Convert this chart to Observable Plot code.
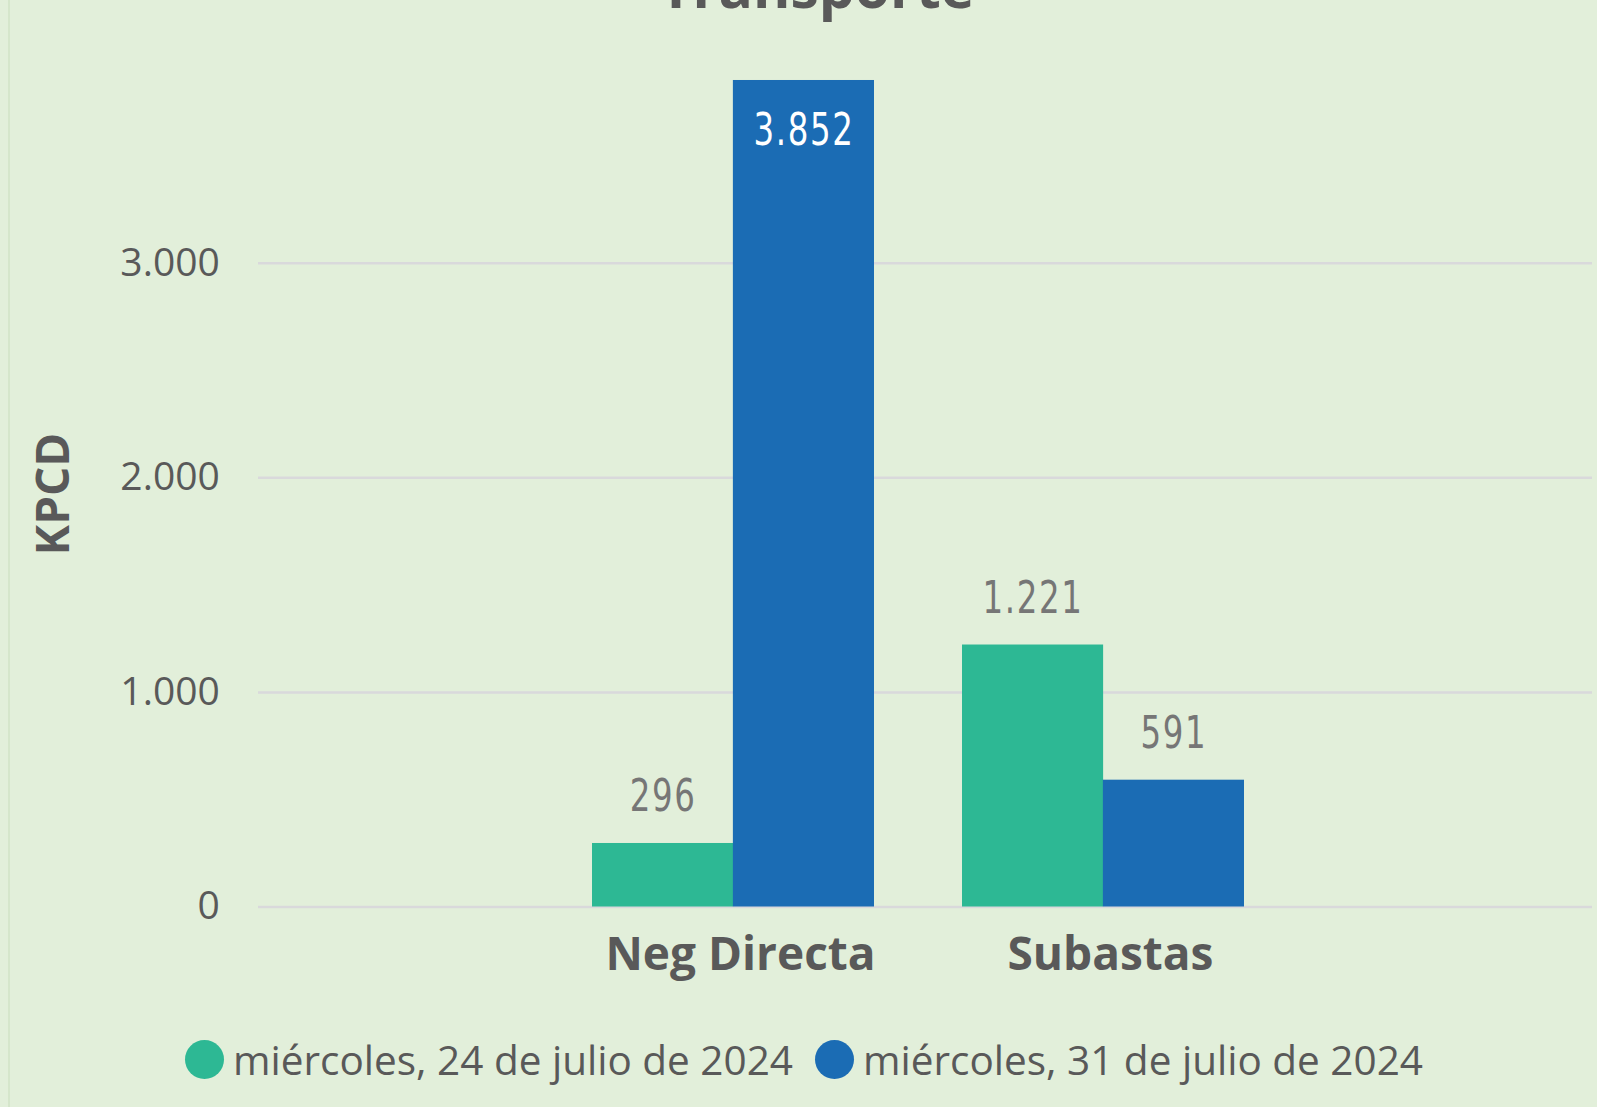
<!DOCTYPE html>
<html><head><meta charset="utf-8">
<script src="https://cdn.jsdelivr.net/npm/d3@7"></script>
<script src="https://cdn.jsdelivr.net/npm/@observablehq/plot@0.6"></script>
<style>
html,body{margin:0;padding:0;background:#E2EFDA;}
#wrap{position:relative;width:1597px;height:1107px;overflow:hidden;background:#E2EFDA;font-family:"Open Sans",sans-serif;}
#edge{position:absolute;left:8px;top:0;width:2px;height:1107px;background:#D5E6CB;}
#title{position:absolute;left:0;width:1597px;top:-42px;text-align:center;font-size:57px;line-height:56px;font-weight:700;color:#595959;padding-left:37px;box-sizing:border-box;}
#chart{position:absolute;left:0;top:0;}
#ylabel{position:absolute;left:51px;top:494px;transform:translate(-50%,-50%) rotate(-90deg);font-size:46px;font-weight:700;color:#595959;white-space:nowrap;line-height:1;}
#legend{position:absolute;left:185px;top:1032px;display:flex;align-items:center;font-size:40.5px;color:#595959;}
.dot{width:39px;height:39px;border-radius:50%;margin-right:9px;flex:none;}
.item{display:flex;align-items:center;margin-right:22px;white-space:nowrap;}
</style></head>
<body>
<div id="wrap">
  <div id="edge"></div>
  <div id="title">Transporte</div>
  <div id="chart"></div>
  <div id="ylabel">KPCD</div>
  <div id="legend"></div>
</div>
<script>
const categories = ["Neg Directa", "Subastas"];
const seriesNames = ["miércoles, 24 de julio de 2024", "miércoles, 31 de julio de 2024"];
const values24 = [296, 1221];
const values31 = [3852, 591];
const yTicks = [0, 1000, 2000, 3000];
const colors = ["#2DB894", "#1B6CB4"];

const locale = d3.formatLocale({decimal: ",", thousands: ".", grouping: [3], currency: ["", ""]});
const fmt = locale.format(",");

const rows24 = categories.map((c, i) => ({category: c, value: values24[i]}));
const rows31 = categories.map((c, i) => ({category: c, value: values31[i]}));

const xRange = [547.5, 1288];
const padIn = 0.239, padOut = 0.1195;
const step = (xRange[1] - xRange[0]) / (categories.length - padIn + 2 * padOut);
const bw = step * (1 - padIn);

const labelFont = '"Liberation Sans Narrow", "DejaVu Sans Condensed", sans-serif';

const plot = Plot.plot({
  width: 1597,
  height: 1000,
  marginLeft: 258,
  marginRight: 5,
  marginTop: 0,
  marginBottom: 93.5,
  style: {background: "transparent", fontFamily: '"Open Sans", sans-serif', color: "#595959", overflow: "visible"},
  x: {domain: categories, range: xRange, paddingInner: padIn, paddingOuter: padOut, label: null, axis: null},
  y: {domain: [0, 3000], range: [906.5, 262.8], label: null, axis: null},
  marks: [
    Plot.ruleY(yTicks, {stroke: "#D9D9DB", strokeWidth: 2.5}),
    Plot.barY(rows24, {x: "category", y: "value", fill: colors[0], insetLeft: 0, insetRight: bw / 2}),
    Plot.barY(rows31, {x: "category", y: "value", fill: colors[1], insetLeft: bw / 2, insetRight: 0}),
    Plot.text(rows24, {filter: d => d.value <= 3000, x: "category", y: "value", text: d => fmt(d.value), dx: -bw / 4, dy: -32, lineAnchor: "bottom", fill: "#767676", fontSize: 44, fontFamily: labelFont}),
    Plot.text(rows31, {filter: d => d.value <= 3000, x: "category", y: "value", text: d => fmt(d.value), dx: bw / 4, dy: -32, lineAnchor: "bottom", fill: "#767676", fontSize: 44, fontFamily: labelFont}),
    Plot.text(rows31, {filter: d => d.value > 3000, x: "category", y: "value", text: d => fmt(d.value), dx: bw / 4, dy: 64.6, lineAnchor: "bottom", fill: "#FFFFFF", fontSize: 44, fontFamily: labelFont}),
    Plot.axisY({ticks: yTicks, tickSize: 0, tickPadding: 38.7, tickFormat: fmt, fontSize: 39, fill: "#595959", label: null}),
    Plot.axisX({tickSize: 0, tickPadding: 30, fontSize: 46, fontWeight: "bold", fill: "#595959", dx: 7, label: null})
  ]
});
d3.select(plot).selectAll("g[aria-label='text'] text")
  .attr("letter-spacing", "2px")
  .attr("transform", function() { return (this.getAttribute("transform") || "") + " scale(0.82,1)"; });
document.getElementById("chart").appendChild(plot);

const legend = document.getElementById("legend");
seriesNames.forEach((name, i) => {
  const item = document.createElement("div");
  item.className = "item";
  const dot = document.createElement("div");
  dot.className = "dot";
  dot.style.background = colors[i];
  const label = document.createElement("span");
  label.textContent = name;
  item.appendChild(dot);
  item.appendChild(label);
  legend.appendChild(item);
});
</script>
</body></html>
